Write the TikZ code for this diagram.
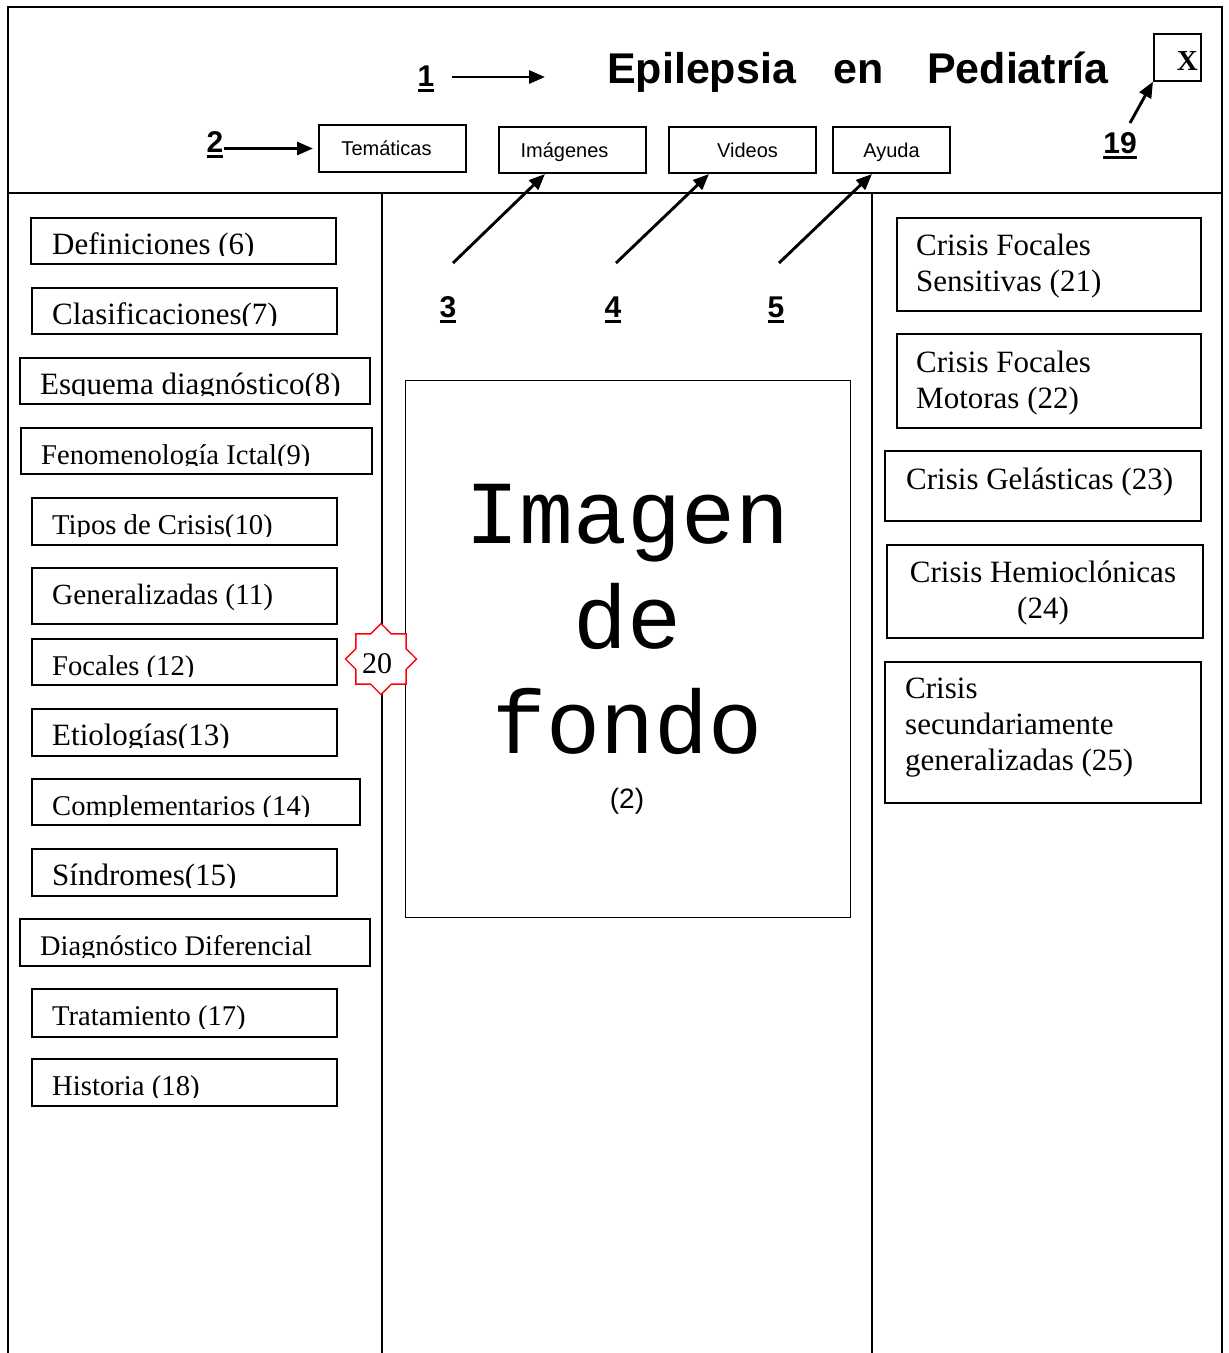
\documentclass[tikz,border=0pt]{standalone}
\usepackage{fontspec}
\setmainfont{Liberation Serif}
\setsansfont{Liberation Sans}
\setmonofont{Liberation Mono}
\usetikzlibrary{arrows.meta,shapes.geometric,calc}

% underlined bold callout number
\newsavebox\numbox
\newcommand\ulnum[1]{\sbox\numbox{#1}\rlap{\rule[-6pt]{\wd\numbox}{3pt}}\usebox\numbox}

% left menu entry: box plus text clipped at the inner bottom margin
% #1 name, #2 left, #3 top, #4 right, #5 bottom, #6 text x, #7 font size, #8 text
\newcommand\menuitem[8]{%
  \node[menubox, minimum width={(#4)-(#2)}, minimum height={(#5)-(#3)}] (#1) at (#2,#3) {};
  \begin{scope}
    \clip (#2,#3) rectangle (#4,#5-8);
    \node[menutext, font=\fontsize{#7}{36}\selectfont] (#1-t) at (#6,#3+37) {#8};
  \end{scope}}

\tikzset{
  frame/.style={line width=1.6pt},
  menubox/.style={draw, line width=1.8pt, rectangle, inner sep=0pt, anchor=north west},
  menutext/.style={inner sep=0pt, anchor=base west},
  topbtn/.style={draw, line width=2pt, inner sep=0pt, anchor=north west,
    font=\sffamily\fontsize{20}{24}\selectfont, text height=14pt, text depth=0pt},
  numlabel/.style={font=\sffamily\bfseries\fontsize{30}{30}\selectfont, inner sep=0pt, anchor=base},
  ptr/.style={line width=2.9pt, -{Triangle[length=16pt,width=13pt]}},
  sidebox/.style={draw, line width=1.8pt, inner sep=0pt, anchor=north west},
  sidetext/.style={font=\fontsize{31}{36}\selectfont, inner sep=0pt, anchor=north west, align=left},
}

\begin{document}
\begin{tikzpicture}[x=1pt,y=-1pt]
\useasboundingbox (0,0) rectangle (1229,1353);
\fill[white] (0,0) rectangle (1229,1353);

% window frame, header separator and column rules
\draw[frame] (8,1360) -- (8,7) -- (1222,7) -- (1222,1360);
\draw[frame] (8,193) -- (1222,193);
\draw[frame] (382,193) -- (382,1360);
\draw[frame] (872,193) -- (872,1360);

% header
\node[font=\sffamily\bfseries\fontsize{43}{43}\selectfont, inner sep=0pt, anchor=base west]
  (title) at (607,83) {Epilepsia\hspace{38pt}en\hspace{43pt}Pediatría};
\node[draw, line width=1.6pt, minimum size=47pt, inner sep=0pt, anchor=north west,
  font=\bfseries\fontsize{29}{29}\selectfont, text height=27pt, text depth=0pt]
  (close) at (1153,33) {\makebox[41pt][r]{\textbf{X}}};

\node[topbtn, minimum width=147pt, minimum height=47pt] (tem) at (318,124) {\hspace*{-12pt}Temáticas};
\node[topbtn, minimum width=147pt, minimum height=46pt] (img) at (498,126) {\hspace*{-16pt}Imágenes};
\node[topbtn, minimum width=147pt, minimum height=46pt] (vid) at (668,126) {\hspace*{10pt}Videos};
\node[topbtn, minimum width=117pt, minimum height=46pt] (ayu) at (832,126) {Ayuda};

% callout numbers
\node[numlabel] (n1) at (426,86) {\ulnum{1}};
\node[numlabel] (n2) at (215,152) {\ulnum{2}};
\node[numlabel] (n3) at (448,317) {\ulnum{3}};
\node[numlabel] (n4) at (613,317) {\ulnum{4}};
\node[numlabel] (n5) at (776,317) {\ulnum{5}};
\node[numlabel] (n19) at (1120,153) {\ulnum{19}};

% callout arrows
\coordinate (p1a) at (452,77);
\coordinate (p1b) at (545,77);
\coordinate (p3) at (453,263);
\coordinate (p4) at (616,263);
\coordinate (p5) at (779,263);
\coordinate (p19) at (1130,123);
\draw[ptr] (p1a) -- (p1b);
\draw[ptr] (n2.east |- tem.west) -- ($(tem.west)+(-5,0)$);
\draw[ptr] (p3) -- ($(img.south west)+(47,0)$);
\draw[ptr] (p4) -- ($(vid.south west)+(41,0)$);
\draw[ptr] (p5) -- ($(ayu.south west)+(40,0)$);
\draw[ptr] (p19) -- (close.south west);

% left menu
\menuitem{m6}{30}{217}{335}{263}{52}{31}{Definiciones (6)}
\menuitem{m7}{31}{287}{336}{333}{52}{31}{Clasificaciones(7)}
\menuitem{m8}{19}{357}{369}{403}{40}{31}{Esquema diagnóstico(8)}
\menuitem{m9}{20}{427}{371}{473}{41}{28.6}{Fenomenología Ictal(9)}
\menuitem{m10}{31}{497}{336}{544}{52}{28.7}{Tipos de Crisis(10)}
\menuitem{m11}{31}{567}{336}{623}{52}{29.3}{Generalizadas (11)}
\menuitem{m12}{31}{638}{336}{684}{52}{28.6}{Focales (12)}
\menuitem{m13}{31}{708}{336}{755}{52}{31}{Etiologías(13)}
\menuitem{m14}{31}{778}{359}{824}{52}{28.6}{Complementarios (14)}
\menuitem{m15}{31}{848}{336}{895}{52}{31}{Síndromes(15)}
\menuitem{m16}{19}{918}{369}{965}{40}{28.4}{Diagnóstico Diferencial}
\menuitem{m17}{31}{988}{336}{1036}{52}{28.6}{Tratamiento (17)}
\menuitem{m18}{31}{1058}{336}{1105}{52}{28.7}{Historia (18)}

% background image area
\node[draw, line width=1.4pt, minimum width=445pt, minimum height=537pt, anchor=north west,
  inner sep=0pt] (bg) at (405,380) {};
\node[font=\ttfamily\fontsize{90}{105}\selectfont, align=center, inner sep=0pt, anchor=north]
  (bgtext) at (627.5,473) {\rule{0pt}{70pt}Imagen\\de\\fondo};
\node[font=\sffamily\fontsize{28}{28}\selectfont, inner sep=0pt, anchor=base]
  (bgnum) at (627,808) {(2)};

% marker on the column rule
\node[star, star points=8, star point ratio=1.307, minimum size=71pt, inner sep=0pt,
  draw=red, fill=white, line width=1.4pt, font=\fontsize{30}{30}\selectfont,
  text height=28pt, text depth=0pt] (s20) at (381,659) {\kern-8pt 20};

% right panel
\node[sidebox, minimum width=304pt, minimum height=93pt] (r21) at (896,217) {};
\node[sidetext] (r21t) at (916,231) {\rule{0pt}{24pt}Crisis Focales\\Sensitivas (21)};
\node[sidebox, minimum width=304pt, minimum height=94pt] (r22) at (896,333) {};
\node[sidetext] (r22t) at (916,348) {\rule{0pt}{24pt}Crisis Focales\\Motoras (22)};
\node[sidebox, minimum width=316pt, minimum height=70pt] (r23) at (884,450) {};
\node[sidetext] (r23t) at (906,465) {\rule{0pt}{24pt}Crisis Gelásticas (23)};
\node[sidebox, minimum width=316pt, minimum height=93pt] (r24) at (886,544) {};
\node[sidetext, align=center, anchor=north] (r24t) at (1043,558) {\rule{0pt}{24pt}Crisis Hemioclónicas\\(24)};
\node[sidebox, minimum width=316pt, minimum height=141pt] (r25) at (884,661) {};
\node[sidetext] (r25t) at (905,674) {\rule{0pt}{24pt}Crisis\\secundariamente\\generalizadas (25)};
\end{tikzpicture}
\end{document}
